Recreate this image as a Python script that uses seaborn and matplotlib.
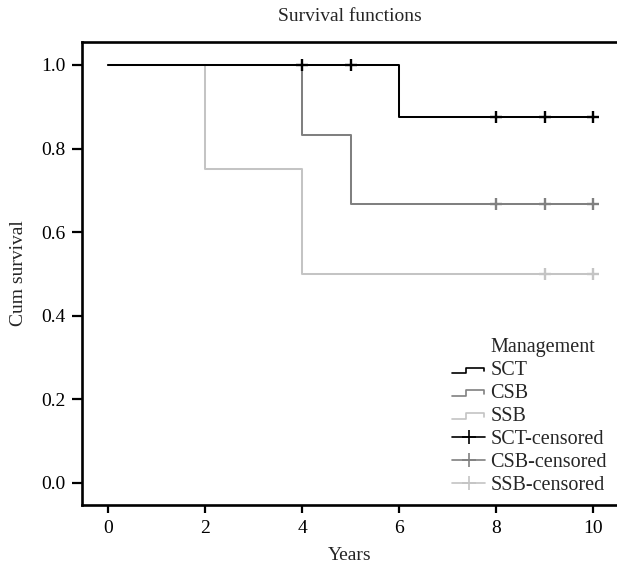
import matplotlib
matplotlib.use("Agg")
import matplotlib.pyplot as plt
import seaborn as sns
import pandas as pd
from matplotlib.lines import Line2D
from matplotlib.legend_handler import HandlerBase

# ---- data ----
groups = ["SCT", "CSB", "SSB"]
sct_times = [0, 6, 10]
sct_surv = [1.0, 0.875, 0.875]
csb_times = [0, 4, 5, 10]
csb_surv = [1.0, 0.833, 0.667, 0.667]
ssb_times = [0, 2, 4, 10]
ssb_surv = [1.0, 0.75, 0.5, 0.5]
sct_cens_t = [4, 5, 8, 9, 10]
sct_cens_s = [1.0, 1.0, 0.875, 0.875, 0.875]
csb_cens_t = [8, 9, 10]
csb_cens_s = [0.667, 0.667, 0.667]
ssb_cens_t = [9, 10]
ssb_cens_s = [0.5, 0.5]
x_ticks = [0, 2, 4, 6, 8, 10]
y_ticks = [0.0, 0.2, 0.4, 0.6, 0.8, 1.0]

colors = {"SCT": "#000000", "CSB": "#808080", "SSB": "#c4c4c4"}

sns.set_theme(style="white")
plt.rcParams["font.family"] = ["Liberation Serif", "DejaVu Serif"]
FS = 14
LFS = 14.5

fig = plt.figure(figsize=(6.17, 5.63), dpi=100)
ax = fig.add_axes([82/617, 58/563, 1 - 82/617, (505-42)/563])

steps = {"SCT": (sct_times, sct_surv), "CSB": (csb_times, csb_surv), "SSB": (ssb_times, ssb_surv)}
cens = {"SCT": (sct_cens_t, sct_cens_s), "CSB": (csb_cens_t, csb_cens_s), "SSB": (ssb_cens_t, ssb_cens_s)}

# draw light groups first so SCT is on top
for g in ["SSB", "CSB", "SCT"]:
    t, s = steps[g]
    df = pd.DataFrame({"Years": t, "Cum survival": s})
    sns.lineplot(data=df, x="Years", y="Cum survival", ax=ax, color=colors[g],
                 drawstyle="steps-post", estimator=None, sort=False, lw=1.45)
for g in ["SSB", "CSB", "SCT"]:
    t, s = cens[g]
    dfc = pd.DataFrame({"Years": t, "Cum survival": s})
    sns.scatterplot(data=dfc, x="Years", y="Cum survival", ax=ax, color=colors[g],
                    marker="+", s=70, linewidth=1.7, zorder=5)

ax.set_xlim(-0.54, 10.49)
ax.set_ylim(-0.053, 1.055)
ax.set_xticks(x_ticks)
ax.set_xticklabels([str(v) for v in x_ticks])
ax.set_yticks(y_ticks)
ax.set_yticklabels([f"{v:.1f}" for v in y_ticks])
for sp in ["left", "bottom", "top"]:
    ax.spines[sp].set_linewidth(1.9)
    ax.spines[sp].set_color("black")
ax.spines["right"].set_visible(False)
ax.tick_params(axis="x", direction="out", length=6, width=1.6, labelsize=FS,
               colors="black", pad=5, bottom=True)
ax.tick_params(axis="y", direction="out", length=7.5, width=1.6, labelsize=FS,
               colors="black", pad=4.5, left=True)
ax.set_xlabel("Years", fontsize=FS, labelpad=7)
ax.set_ylabel("Cum survival", fontsize=FS, labelpad=10)
ax.set_title("Survival functions", fontsize=FS, pad=15)


class StepHandler(HandlerBase):
    def create_artists(self, legend, orig_handle, xdescent, ydescent, width, height, fontsize, trans):
        x0 = -xdescent
        y0 = -ydescent
        xs = [x0, x0 + 0.42*width, x0 + 0.42*width, x0 + 0.95*width, x0 + 0.95*width]
        ys = [y0 + 0.15*height, y0 + 0.15*height, y0 + 0.55*height, y0 + 0.55*height, y0 + 0.32*height]
        ln = Line2D(xs, ys, color=orig_handle.get_color(), lw=1.2, transform=trans)
        return [ln]


class StepProxy(Line2D):
    pass


handles = [Line2D([], [], color="none", lw=0)]
labels = ["Management"]
for g in groups:
    handles.append(StepProxy([0], [0], color=colors[g]))
    labels.append(g)
for g in groups:
    handles.append(Line2D([0], [0], color=colors[g], marker="+", markersize=10,
                          markeredgewidth=1.2, lw=1.2))
    labels.append(f"{g}-censored")

leg = ax.legend(handles, labels, loc="lower right",
                bbox_to_anchor=(1.0, 0.0), frameon=False, fontsize=LFS,
                handlelength=1.65, handletextpad=0.25,
                labelspacing=0.19, borderaxespad=0.1,
                handler_map={StepProxy: StepHandler()})

fig.savefig("out.png", dpi=100)
